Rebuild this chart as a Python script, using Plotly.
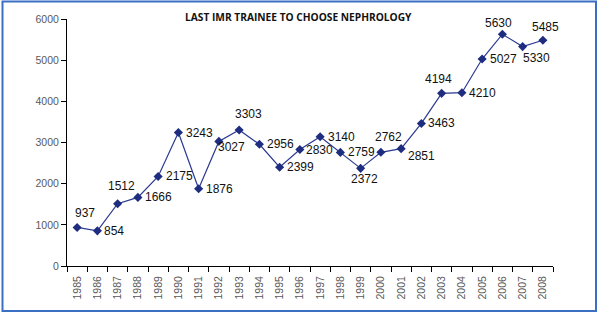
import plotly.graph_objects as go

years = [str(y) for y in range(1985, 2009)]
last_trainee = [937, 854, 1512, 1666, 2175, 3243, 1876, 3027, 3303, 2956, 2399, 2830,
                3140, 2759, 2372, 2762, 2851, 3463, 4194, 4210, 5027, 5630, 5330, 5485]
y_ticks = [0, 1000, 2000, 3000, 4000, 5000, 6000]

# label offsets in pixels (right, down)
label_dx = [8, 17, 4, 21, 21, 21, 21, 13, 9, 21, 21, 20, 21, 21, 4, 8, 20, 20, -3, 21, 21, -4, 14, 3]
label_dy = [-14, 0, -18, 0, 0, 0, 0, 6, -16, 0, 0, 0, 0, 0, 11, -15, 7, 0, -14, 0, 0, -11, 11, -13]

L, R, T, B = 67, 47, 19, 47
W, H = 600, 313
pw, ph = W - L - R, H - T - B

fig = go.Figure()
fig.add_trace(go.Scatter(
    x=years, y=last_trainee, mode="lines+markers",
    line=dict(color="#2b3990", width=1.2),
    marker=dict(symbol="diamond", size=7, color="#1f2d80"),
    hoverinfo="x+y", showlegend=False,
))

for i, (v, dx, dy) in enumerate(zip(last_trainee, label_dx, label_dy)):
    fig.add_annotation(x=i, y=v, text=str(v), showarrow=False,
                       xshift=dx, yshift=-dy, xanchor="center", yanchor="middle",
                       font=dict(family="Liberation Sans, Arial", size=12, color="#111111"))

fig.add_annotation(xref="paper", yref="paper", x=(298 - L) / pw, y=(H - B - 17) / ph,
                   text="<b>LAST IMR TRAINEE TO CHOOSE NEPHROLOGY</b>", showarrow=False,
                   xanchor="center", yanchor="middle",
                   font=dict(family="Open Sans, Liberation Sans", size=10.2, color="#111111"))

# outer border
fig.add_shape(type="rect", xref="paper", yref="paper",
              x0=(2.5 - L) / pw, x1=(596 - L) / pw,
              y0=(H - B - 311) / ph, y1=(H - B - 1.5) / ph,
              line=dict(color="#3b6fc4", width=2), fillcolor="rgba(0,0,0,0)", layer="below")

fig.update_layout(
    width=W, height=H,
    margin=dict(l=L, r=R, t=T, b=B),
    paper_bgcolor="white", plot_bgcolor="white",
    xaxis=dict(type="category", range=[-0.5, 23.5], tickangle=-90, ticks="outside",
               tickson="boundaries", ticklen=5, tickcolor="black", showline=True,
               linecolor="black", linewidth=1, showgrid=False, zeroline=False,
               ticklabelstandoff=5,
               tickfont=dict(family="Liberation Sans, Arial", size=10.5, color="#595959")),
    yaxis=dict(range=[0, 6000], tickvals=y_ticks, ticks="outside", ticklen=5,
               tickcolor="black", showline=True, linecolor="black", linewidth=1,
               showgrid=False, zeroline=False,
               tickfont=dict(family="Liberation Sans, Arial", size=10.5, color="#595959")),
)

fig.write_html("out.html", post_script="document.body.style.margin='0';",
               config={"displayModeBar": False})
